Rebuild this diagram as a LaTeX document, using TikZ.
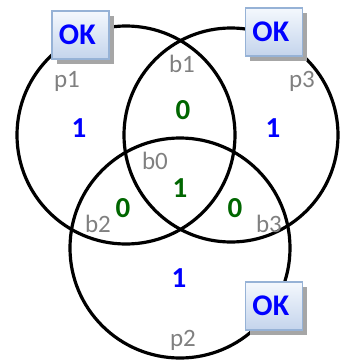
\documentclass[tikz,border=0pt]{standalone}
\usepackage{fontspec}
\setmainfont{Carlito}
\usetikzlibrary{shadows}

\definecolor{okblue}{RGB}{0,0,255}
\definecolor{pargreen}{RGB}{0,102,0}
\definecolor{lblgray}{RGB}{128,128,128}
\definecolor{boxedge}{RGB}{150,178,214}
\definecolor{boxtop}{RGB}{244,248,253}
\definecolor{boxbot}{RGB}{196,212,236}

\begin{document}
\begin{tikzpicture}[
        x=1pt, y=-1pt,
        ring/.style={
            draw,
            line width=3.2pt
        },
        okbox/.style={
            rectangle,
            draw=boxedge,
            line width=1.5pt,
            top color=boxtop,
            bottom color=boxbot,
            text width=43pt,
            minimum height=48pt,
            inner xsep=7pt,
            inner ysep=0pt,
            align=left,
            text=okblue,
            font=\fontsize{30}{30}\selectfont\bfseries,
            drop shadow={shadow xshift=5pt, shadow yshift=-5pt, fill=black!35, opacity=1}
        },
        dataval/.style={
            text=okblue,
            font=\fontsize{29}{29}\selectfont\bfseries
        },
        parval/.style={
            text=pargreen,
            font=\fontsize{29}{29}\selectfont\bfseries
        },
        lbl/.style={
            text=lblgray,
            font=\fontsize{25}{25}\selectfont
        }
    ]
    \useasboundingbox (0,0) rectangle (340,360);

    % Circle centres
    \coordinate (cp1) at (126,135);
    \coordinate (cp3) at (231,135);
    \coordinate (cp2) at (180,248);

    % Circles
    \draw[ring] (cp1) circle[radius=109];
    \draw[ring] (cp3) circle[radius=107];
    \draw[ring] (cp2) circle[radius=110];

    % Circle and bit labels
    \node[lbl] (p1) at (67,81) {p1};
    \node[lbl] (p3) at (302,81) {p3};
    \node[lbl] (p2) at (183,340) {p2};
    \node[lbl] (b1) at (182,64) {b1};
    \node[lbl] (b0) at (155,161) {b0};
    \node[lbl] (b2) at (98,224) {b2};
    \node[lbl] (b3) at (269,224) {b3};

    % Parity bits
    \node[dataval] (v1) at (79,128) {1};
    \node[dataval] (v3) at (273,128) {1};
    \node[dataval] (v2) at (179,278) {1};

    % Data bits
    \node[parval] (d1) at (183,110) {0};
    \node[parval] (d0) at (180,188) {1};
    \node[parval] (d2) at (123,208) {0};
    \node[parval] (d3) at (235,208) {0};

    % Check results
    \node[okbox] (ok1) at (80.5,35) {OK};
    \node[okbox] (ok3) at (274,32) {OK};
    \node[okbox] (ok2) at (274,306) {OK};

\end{tikzpicture}
\end{document}
